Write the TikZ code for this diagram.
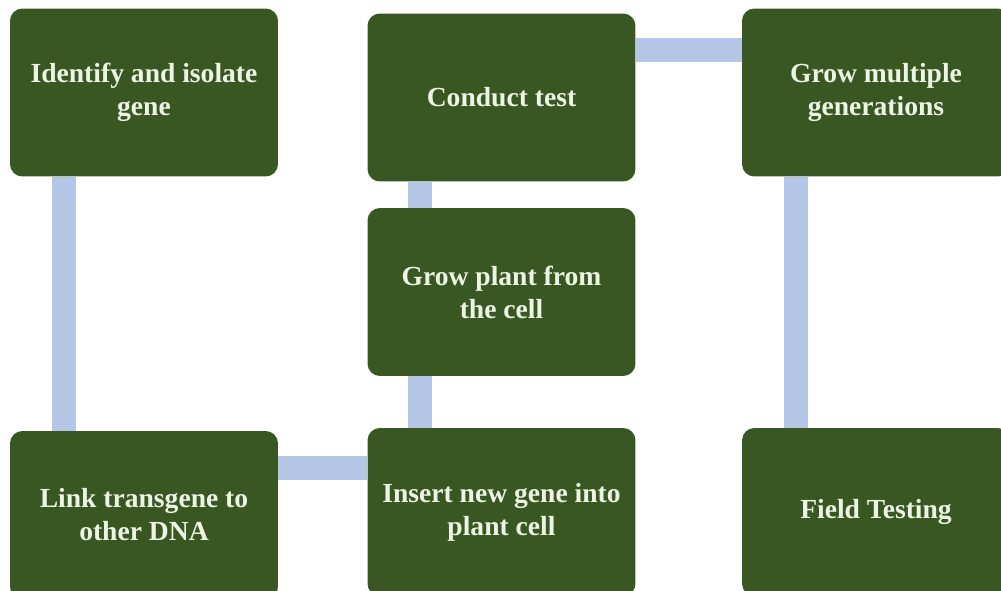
\documentclass[tikz,border=0pt]{standalone}
\usepackage{fontspec}
\setmainfont{Liberation Serif}
\definecolor{boxgreen}{RGB}{56,87,35}
\definecolor{linkblue}{RGB}{180,199,231}
\definecolor{boxtext}{RGB}{236,244,228}
\begin{document}
\begin{tikzpicture}[x=0.02cm, y=-0.02cm,
        step box/.style={fill=boxgreen, rounded corners=7pt, inner sep=0pt,
            minimum width=5.36cm, minimum height=3.36cm, align=center,
            text=boxtext, font=\fontsize{15.7}{18.8}\selectfont\bfseries},
        link/.style={draw=linkblue, line width=13.7pt}]
        \useasboundingbox (0,0) rectangle (1001,591);

        \node[step box] (AA) at (144, 92.5) {Identify and isolate\\gene};
        \node[step box] (AB) at (501.5, 97.5) {Conduct test};
        \node[step box] (AC) at (876, 92.5) {Grow multiple\\generations};
        \node[step box] (AD) at (501.5, 292) {Grow plant from\\the cell};
        \node[step box] (AE) at (144, 515) {Link transgene to\\other DNA};
        \node[step box] (AF) at (501.5, 512) {Insert new gene into\\plant cell};
        \node[step box] (AG) at (876, 512) {Field Testing};

        \draw[link] ([xshift=-1.6cm]AA.south) -- ([xshift=-1.6cm]AE.north);
        \draw[link] ([yshift=0.94cm]AE.east) -- ([yshift=0.94cm]AE.east -| AF.west);
        \draw[link] ([xshift=-1.63cm]AF.north) -- ([xshift=-1.63cm]AD.south);
        \draw[link] ([xshift=-1.63cm]AD.north) -- ([xshift=-1.63cm]AB.south);
        \draw[link] ([yshift=0.95cm]AB.east) -- ([yshift=0.95cm]AB.east -| AC.west);
        \draw[link] ([xshift=-1.6cm]AC.south) -- ([xshift=-1.6cm]AG.north);
    \end{tikzpicture}
\end{document}
